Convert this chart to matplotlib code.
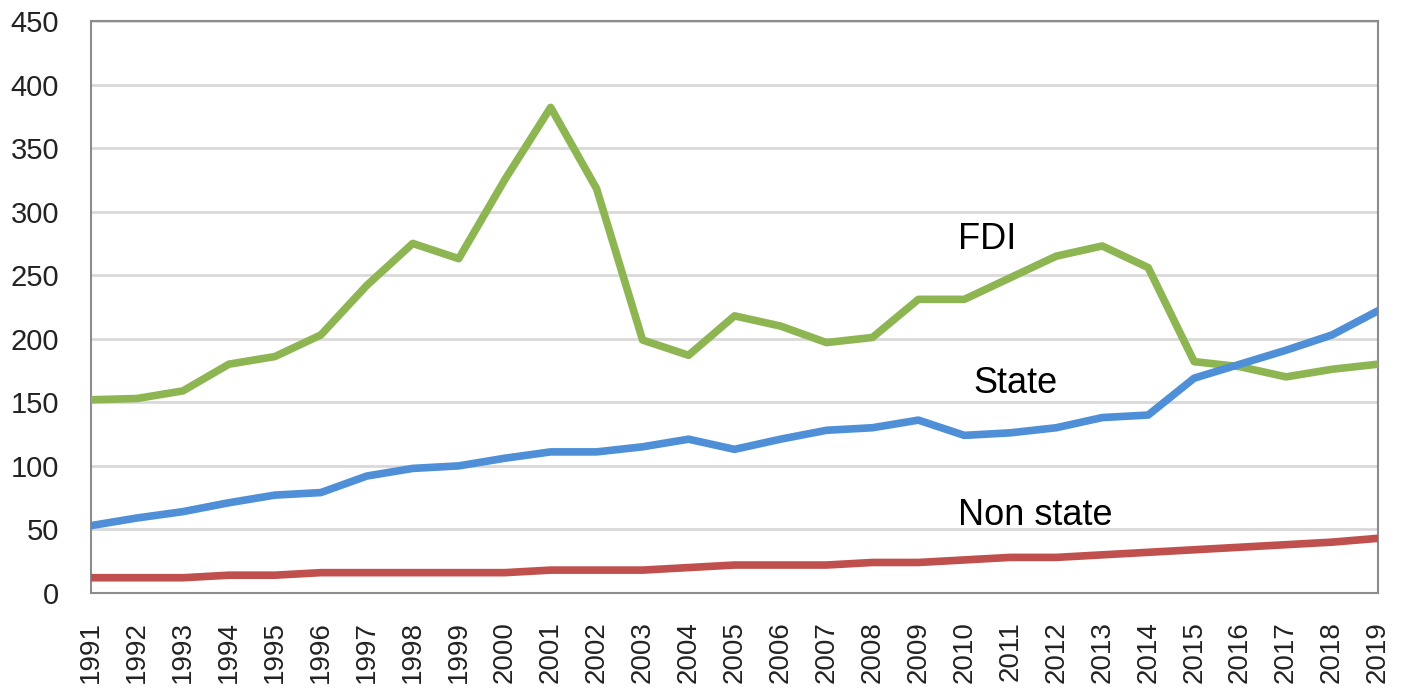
# encoding utf-8
import numpy as np
import matplotlib
matplotlib.use("Agg")
import matplotlib.pyplot as plt

# data
years = list(range(1991, 2020))
fdi = [152, 153, 159, 180, 186, 203, 242, 275, 263, 325, 382, 318, 199, 187,
       218, 210, 197, 201, 231, 231, 248, 265, 273, 256, 182, 178, 170, 176, 180]
state = [53, 59, 64, 71, 77, 79, 92, 98, 100, 106, 111, 111, 115, 121,
         113, 121, 128, 130, 136, 124, 126, 130, 138, 140, 169, 180, 191, 203, 222]
non_state = [12, 12, 12, 14, 14, 16, 16, 16, 16, 16, 18, 18, 18, 20,
             22, 22, 22, 24, 24, 26, 28, 28, 30, 32, 34, 36, 38, 40, 43]
y_ticks = list(range(0, 451, 50))

fig = plt.figure(figsize=(14.09, 6.9), dpi=100)
ax = fig.add_axes([0.0646, 0.1406, 0.9134, 0.829])

ax.plot(years, fdi, color='#8DB552', lw=5.5, solid_joinstyle='round', zorder=3)
ax.plot(years, state, color='#4F8FD8', lw=5.5, solid_joinstyle='round', zorder=3)
ax.plot(years, non_state, color='#C0504D', lw=5.5, solid_joinstyle='round', zorder=3)

ax.set_xlim(1991, 2019)
ax.set_ylim(0, 450)
ax.set_yticks(y_ticks)
ax.set_xticks(years)
ax.set_xticklabels([str(y) for y in years], rotation=90,
                   family=['Liberation Sans', 'DejaVu Sans'], fontsize=20, color='#222222')
ax.set_yticklabels([str(v) for v in y_ticks],
                   family=['Liberation Sans', 'DejaVu Sans'], fontsize=21, color='#222222')
ax.tick_params(axis='both', length=0)
ax.tick_params(axis='y', pad=23)
ax.tick_params(axis='x', pad=20)

ax.grid(axis='y', color='#D9D9D9', lw=2, zorder=0)
for s in ax.spines.values():
    s.set_color('#8C8C8C')
    s.set_linewidth(1.5)

lab = dict(fontsize=26, family=['Liberation Sans', 'DejaVu Sans'], color='black', va='center', ha='left')
ax.text(2009.86, 278, 'FDI', **lab)
ax.text(2010.2, 165, 'State', **lab)
ax.text(2009.86, 61, 'Non state', **lab)

fig.savefig('out.png', dpi=100)
